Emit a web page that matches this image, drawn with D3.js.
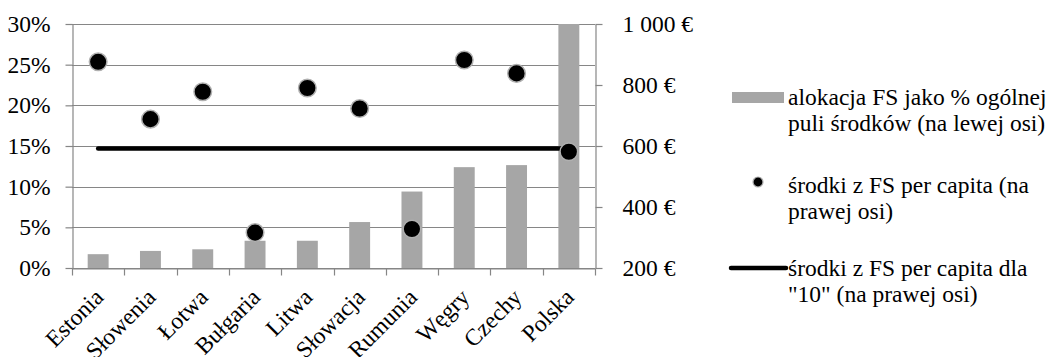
<!DOCTYPE html>
<html>
<head>
<meta charset="utf-8">
<script src="https://cdn.jsdelivr.net/npm/d3@7"></script>
<style>
  html, body { margin: 0; padding: 0; background: #fff; }
</style>
</head>
<body>
<svg id="chart" width="1056" height="357"></svg>
<script>
// Countries on the category axis
const categories = ["Estonia", "Słowenia", "Łotwa", "Bułgaria", "Litwa", "Słowacja", "Rumunia", "Węgry", "Czechy", "Polska"];
// FS allocation as % of the total envelope (left axis)
const allocationPct = [1.7, 2.1, 2.3, 3.35, 3.35, 5.65, 9.4, 12.4, 12.65, 30];
// FS funds per capita, EUR (right axis)
const perCapita = [876, 688, 778, 316, 790, 723, 328, 882, 838, 581];
// FS funds per capita for the "10" group, EUR (right axis)
const avgTen = 592;
// Tick values
const leftTicks = [0, 5, 10, 15, 20, 25, 30];
const rightTicks = [200, 400, 600, 800, 1000];
const legendLabels = [
  ["alokacja FS jako % ogólnej", "puli środków (na lewej osi)"],
  ["środki z FS per capita (na", "prawej osi)"],
  ["środki z FS per capita dla", "\"10\" (na prawej osi)"]
];

const svg = d3.select("#chart");
const plotL = 72, plotR = 595, plotT = 24, plotB = 268;
const axisColor = "#868686";
const fontSize = 23.5;
const serif = "Liberation Serif";

const x = d3.scaleBand().domain(categories).range([plotL, plotR])
  .paddingInner(0.6).paddingOuter(0.3);
const yL = d3.scaleLinear().domain([0, 30]).range([plotB, plotT]);
const yR = d3.scaleLinear().domain([200, 1000]).range([plotB, plotT]);
const cx = d => x(d) + x.bandwidth() / 2;

// horizontal gridlines
svg.append("g").selectAll("line").data(leftTicks).join("line")
  .attr("x1", plotL).attr("x2", plotR)
  .attr("y1", d => Math.round(yL(d)) + 0.5).attr("y2", d => Math.round(yL(d)) + 0.5)
  .attr("stroke", axisColor).attr("stroke-width", 1.2);

// bars (Polska runs past the top of the scale and is cut at 30%)
svg.append("g").selectAll("rect").data(categories).join("rect")
  .attr("x", d => x(d)).attr("width", x.bandwidth())
  .attr("y", (d, i) => yL(Math.min(allocationPct[i], 30)))
  .attr("height", (d, i) => plotB - yL(Math.min(allocationPct[i], 30)))
  .attr("fill", "#a6a6a6");

// left axis
const gL = svg.append("g").attr("transform", `translate(${plotL + 0.5},0)`)
  .call(d3.axisLeft(yL).tickValues(leftTicks).tickFormat(d => d + "%").tickSizeInner(7).tickSizeOuter(0).tickPadding(15));
// right axis
const gR = svg.append("g").attr("transform", `translate(${plotR + 0.5},0)`)
  .call(d3.axisRight(yR).tickValues(rightTicks)
    .tickFormat(d => d3.format(",")(d).replace(",", " ") + " €")
    .tickSizeInner(7).tickSizeOuter(0).tickPadding(20));
// bottom axis with separators between categories
const gB = svg.append("g").attr("transform", `translate(0,${plotB + 0.5})`)
  .call(d3.axisBottom(x).tickSize(0).tickFormat(""));
gB.selectAll(".sep").data(d3.range(categories.length + 1)).join("line")
  .attr("class", "sep")
  .attr("x1", i => Math.round(plotL + i * x.step()) + 0.5)
  .attr("x2", i => Math.round(plotL + i * x.step()) + 0.5)
  .attr("y1", 0).attr("y2", 7).attr("stroke", axisColor).attr("stroke-width", 1.2);

[gL, gR, gB].forEach(g => {
  g.attr("font-family", serif);
  g.selectAll(".domain").attr("stroke", axisColor).attr("stroke-width", 1.2);
  g.selectAll(".tick line").attr("stroke", axisColor).attr("stroke-width", 1.2);
  g.selectAll(".tick text").attr("font-size", fontSize).attr("font-family", serif).attr("fill", "#000");
});

// rotated category labels
svg.append("g").selectAll("text").data(categories).join("text")
  .attr("transform", d => `translate(${cx(d) - 5},${plotB + 19}) rotate(-45)`)
  .attr("text-anchor", "end").attr("dy", "0.7em")
  .attr("font-family", serif).attr("font-size", fontSize)
  .text(d => d);

// line for the "10" group
svg.append("line")
  .attr("x1", cx(categories[0])).attr("x2", cx(categories[categories.length - 1]))
  .attr("y1", yR(avgTen)).attr("y2", yR(avgTen))
  .attr("stroke", "#000").attr("stroke-width", 4.5).attr("stroke-linecap", "round");

// per-capita points
svg.append("g").selectAll("circle").data(categories).join("circle")
  .attr("cx", d => cx(d)).attr("cy", (d, i) => yR(perCapita[i]))
  .attr("r", 8.8).attr("fill", "#000").attr("stroke", "#b0b0b0").attr("stroke-width", 1.5);

// legend
const lg = svg.append("g");
lg.append("rect").attr("x", 732).attr("y", 92).attr("width", 52).attr("height", 11).attr("fill", "#a6a6a6");
lg.append("circle").attr("cx", 758).attr("cy", 182).attr("r", 5).attr("fill", "#000")
  .attr("stroke", "#b0b0b0").attr("stroke-width", 1.2);
lg.append("line").attr("x1", 731).attr("x2", 786).attr("y1", 268).attr("y2", 268)
  .attr("stroke", "#000").attr("stroke-width", 4.5).attr("stroke-linecap", "round");
const legendY = [97, 185, 268];
const legendX = [788, 788, 788];
legendLabels.forEach((lines, k) => {
  const t = lg.append("text").attr("x", legendX[k]).attr("y", legendY[k])
    .attr("font-family", serif).attr("font-size", fontSize);
  lines.forEach((s, j) => t.append("tspan").attr("x", legendX[k]).attr("dy", j === 0 ? "0.35em" : 26).text(s));
});
</script>
</body>
</html>
